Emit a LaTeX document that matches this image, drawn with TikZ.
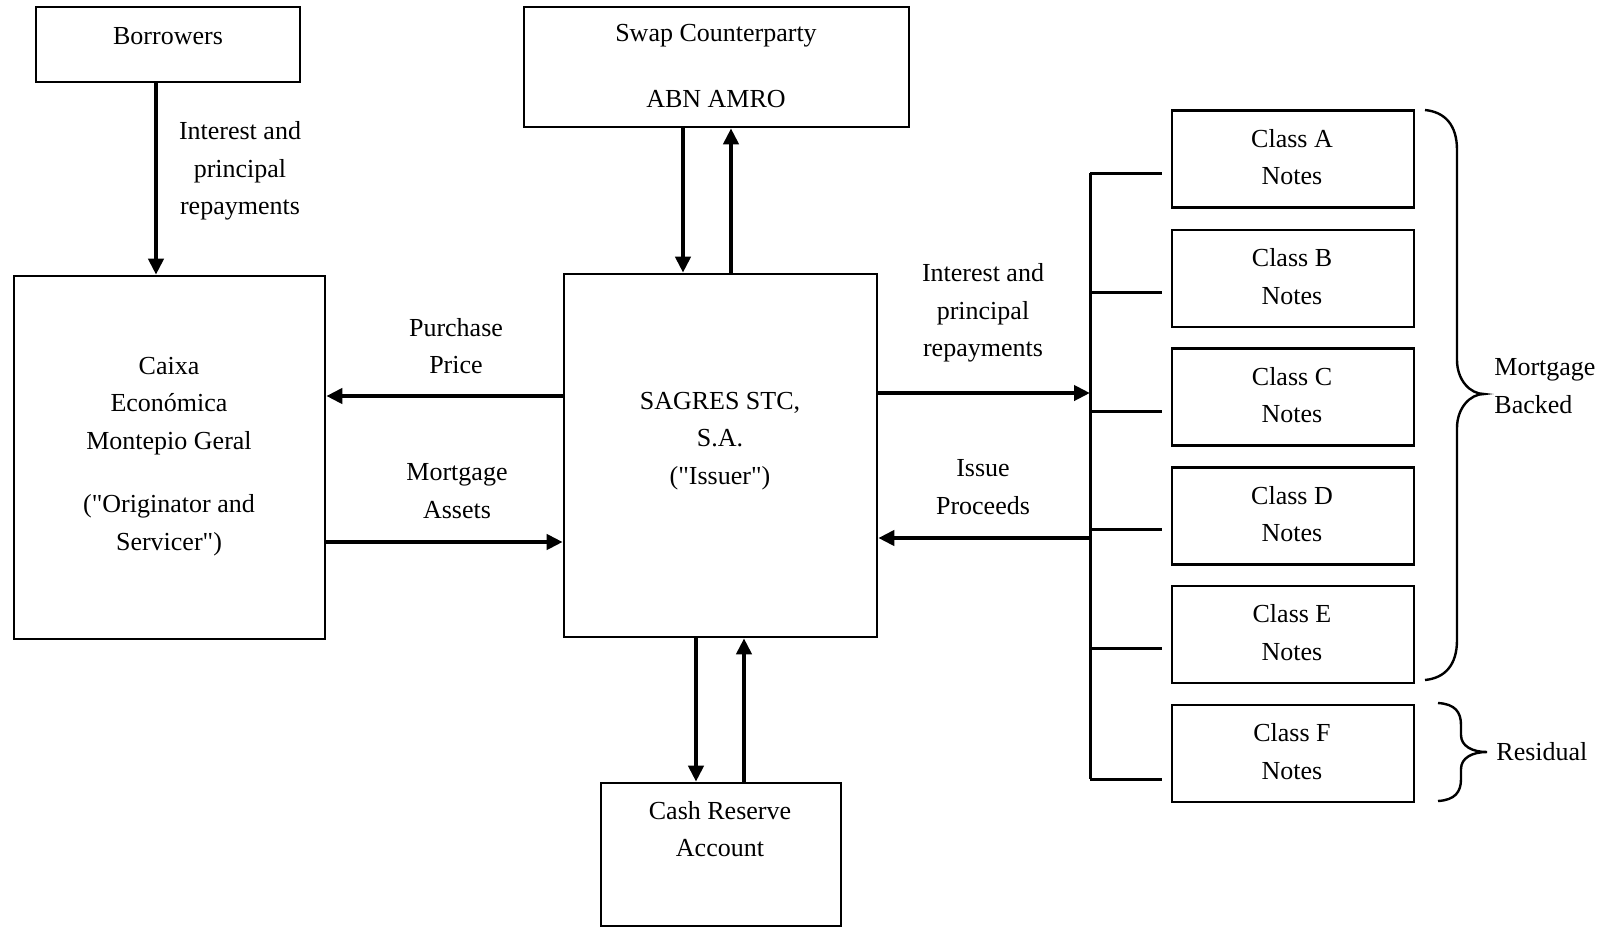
\documentclass[tikz,border=0pt]{standalone}
\usepackage{fontspec}
\setmainfont[Ligatures=TeXOff]{Liberation Serif}
\usetikzlibrary{arrows.meta,calc}
\begin{document}
\begin{tikzpicture}[x=0.5pt,y=-0.5pt,
  box/.style={draw, line width=1.3pt, inner sep=0pt},
  clbox/.style={box, minimum width=121pt, minimum height=48.5pt},
  txt/.style={font=\fontsize{13pt}{18.75pt}\selectfont, align=center, inner sep=0pt},
  arr/.style={line width=2pt, -{Triangle[length=8pt,width=7.5pt]}},
  bus/.style={line width=1.5pt},
  brc/.style={line width=1.2pt}]
\useasboundingbox (0,0) rectangle (1618,928);
% boxes
\node[box, minimum width=132pt, minimum height=37.5pt] (borrowers) at (168,44.5) {};
\node[box, minimum width=192.5pt, minimum height=60pt] (swap) at (716.5,67) {};
\node[box, minimum width=155.5pt, minimum height=181.5pt] (caixa) at (169.5,457.5) {};
\node[box, minimum width=156.5pt, minimum height=181.5pt] (sagres) at (720.5,455.5) {};
\node[box, minimum width=120pt, minimum height=71.5pt] (cash) at (721,854.5) {};
\node[clbox] (classA) at (1293,159) {};
\node[clbox] (classB) at (1293,278.5) {};
\node[clbox] (classC) at (1293,397) {};
\node[clbox] (classD) at (1293,516) {};
\node[clbox] (classE) at (1293,634.5) {};
\node[clbox] (classF) at (1293,753.5) {};
% texts
\node[txt] (tBorrowers) at (168,36) {Borrowers};
\node[txt] (tSwap) at (716,36) {Swap Counterparty};
\node[txt] (tAbn) at (716,99) {ABN AMRO};
\node[txt] (tIntL) at (240,171) {Interest and\\principal\\repayments};
\node[txt] (tCaixa1) at (169,406) {Caixa\\Económica\\Montepio Geral};
\node[txt] (tCaixa2) at (169,525) {("Originator and\\Servicer")};
\node[txt] (tPP) at (456,346) {Purchase\\Price};
\node[txt] (tMA) at (457,491) {Mortgage\\Assets};
\node[txt] (tSagres) at (720,441) {SAGRES STC,\\S.A.\\("Issuer")};
\node[txt] (tIntR) at (983,313) {Interest and\\principal\\repayments};
\node[txt] (tIP) at (983,487) {Issue\\Proceeds};
\node[txt] (tCash) at (720,829) {Cash Reserve\\Account};
\node[txt] (tA) at (1292,157) {Class A\\Notes};
\node[txt] (tB) at (1292,276.5) {Class B\\Notes};
\node[txt] (tC) at (1292,395) {Class C\\Notes};
\node[txt] (tD) at (1292,514) {Class D\\Notes};
\node[txt] (tE) at (1292,632.5) {Class E\\Notes};
\node[txt] (tF) at (1292,751.5) {Class F\\Notes};
\node[txt, align=left, anchor=west] (tMB) at (1494,386) {Mortgage\\Backed};
\node[txt, align=left, anchor=west] (tRes) at (1496,752) {Residual};
% helper coordinates
\coordinate (xb) at (156,0);
\coordinate (xs1) at (683,0);
\coordinate (xs2) at (731,0);
\coordinate (xc1) at (696,0);
\coordinate (xc2) at (744,0);
\coordinate (yPP) at (0,396);
\coordinate (yMA) at (0,542);
\coordinate (busIR) at (1090,393);
\coordinate (busIP) at (1090,538);
\coordinate (busTop) at (1090,173);
\coordinate (busBot) at (1090,779);
\coordinate (stubA) at ($(classA.west)+(-9,14)$);
\coordinate (stubB) at ($(classB.west)+(-9,13.5)$);
\coordinate (stubC) at ($(classC.west)+(-9,14)$);
\coordinate (stubD) at ($(classD.west)+(-9,13)$);
\coordinate (stubE) at ($(classE.west)+(-9,13.5)$);
\coordinate (stubF) at ($(classF.west)+(-9,25.5)$);
% arrows
\draw[arr] (borrowers.south -| xb) -- (caixa.north -| xb);
\draw[arr] (swap.south -| xs1) -- (sagres.north -| xs1);
\draw[arr] (sagres.north -| xs2) -- (swap.south -| xs2);
\draw[arr] (sagres.south -| xc1) -- (cash.north -| xc1);
\draw[arr] (cash.north -| xc2) -- (sagres.south -| xc2);
\draw[arr] (sagres.west |- yPP) -- (caixa.east |- yPP);
\draw[arr] (caixa.east |- yMA) -- (sagres.west |- yMA);
\draw[arr] (sagres.east |- busIR) -- (busIR);
\draw[arr] (busIP) -- (sagres.east |- busIP);
% bus
\draw[bus] (busTop) -- (busBot);
\draw[bus] (stubA -| busTop) -- (stubA);
\draw[bus] (stubB -| busTop) -- (stubB);
\draw[bus] (stubC -| busTop) -- (stubC);
\draw[bus] (stubD -| busTop) -- (stubD);
\draw[bus] (stubE -| busTop) -- (stubE);
\draw[bus] (stubF -| busTop) -- (stubF);
% braces
\draw[brc] (1425,110) .. controls (1445,112) and (1457,125) .. (1457,150)
  -- (1457,360) .. controls (1457,380) and (1470,394) .. (1484,394)
  .. controls (1470,394) and (1457,408) .. (1457,428)
  -- (1457,640) .. controls (1457,665) and (1445,678) .. (1425,680);
\draw[brc] (1438,703) .. controls (1455,704) and (1461,712) .. (1461,725)
  -- (1461,735) .. controls (1461,746) and (1472,752) .. (1487,752)
  .. controls (1472,752) and (1461,758) .. (1461,769)
  -- (1461,779) .. controls (1461,792) and (1455,800) .. (1438,801);
\end{tikzpicture}
\end{document}
